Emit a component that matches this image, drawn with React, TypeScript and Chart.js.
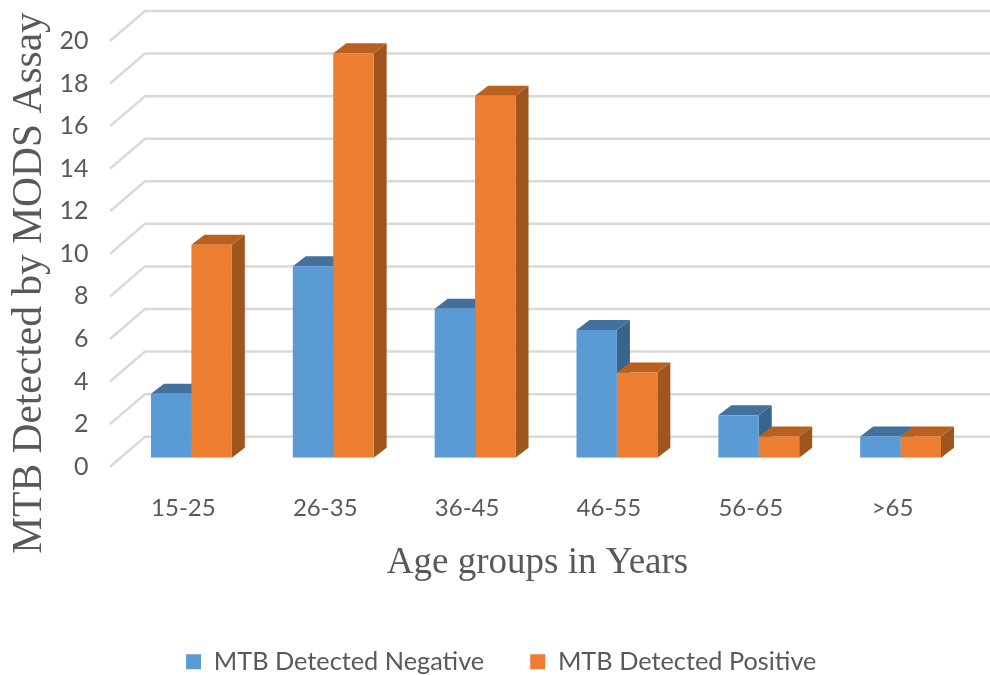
import React, { useEffect, useRef } from "react";
import { Chart, registerables } from "chart.js";

Chart.register(...registerables);

const categories = ["15-25", "26-35", "36-45", "46-55", "56-65", ">65"];
const negativeValues = [3, 9, 7, 6, 2, 1];
const positiveValues = [10, 19, 17, 4, 1, 1];
const seriesNames = ["MTB Detected Negative", "MTB Detected Positive"];
const yTicks = [0, 2, 4, 6, 8, 10, 12, 14, 16, 18, 20];
const xTitle = "Age groups in Years";
const yTitle = "MTB Detected by MODS Assay";

const TEXT = "#595959";
const faceColors = [
  { top: "#41719C", side: "#38648C" },
  { top: "#B8611F", side: "#A0551F" },
];
const depthX = 13;
const depthY = 10;

const threeD = {
  id: "threeD",
  afterLayout(chart: any) {
    const legend = chart.legend;
    const h = legend.height;
    legend.left += 15.5;
    legend.right += 15.5;
    legend.top = 603;
    legend.bottom = 603 + h;
  },
  beforeDatasetsDraw(chart: any) {
    const { ctx } = chart;
    const y = chart.scales.y;
    ctx.save();
    ctx.strokeStyle = "#D9D9D9";
    ctx.lineWidth = 2.5;
    yTicks.forEach((v) => {
      const py = y.getPixelForValue(v);
      ctx.beginPath();
      ctx.moveTo(110, py + 9);
      ctx.lineTo(145, py - 21);
      ctx.lineTo(990, py - 21);
      ctx.stroke();
    });
    chart.data.datasets.forEach((_: any, di: number) => {
      const meta = chart.getDatasetMeta(di);
      meta.data.forEach((bar: any) => {
        const half = bar.width / 2;
        const l = bar.x - half;
        const r = bar.x + half;
        const t = bar.y;
        const b = bar.base;
        ctx.fillStyle = faceColors[di].side;
        ctx.beginPath();
        ctx.moveTo(r, t);
        ctx.lineTo(r + depthX, t - depthY);
        ctx.lineTo(r + depthX, b - depthY);
        ctx.lineTo(r, b);
        ctx.closePath();
        ctx.fill();
        ctx.fillStyle = faceColors[di].top;
        ctx.beginPath();
        ctx.moveTo(l, t);
        ctx.lineTo(l + depthX, t - depthY);
        ctx.lineTo(r + depthX, t - depthY);
        ctx.lineTo(r, t);
        ctx.closePath();
        ctx.fill();
      });
    });
    ctx.restore();
  },
  afterDraw(chart: any) {
    const { ctx } = chart;
    ctx.save();
    ctx.fillStyle = TEXT;
    ctx.textAlign = "center";
    ctx.textBaseline = "middle";
    ctx.font = '37px "Liberation Serif"';
    ctx.fillText(xTitle, 537.5, 563);
    ctx.translate(30, 283);
    ctx.rotate(-Math.PI / 2);
    ctx.font = '41.5px "Liberation Serif"';
    ctx.fillText(yTitle, 0, 0);
    ctx.restore();
  },
};

export default function App() {
  const ref = useRef<HTMLCanvasElement>(null);
  useEffect(() => {
    const chart = new Chart(ref.current as HTMLCanvasElement, {
      type: "bar",
      data: {
        labels: categories,
        datasets: [
          { label: seriesNames[0], data: negativeValues, backgroundColor: "#5B9BD5" },
          { label: seriesNames[1], data: positiveValues, backgroundColor: "#ED7D31" },
        ],
      },
      options: {
        responsive: false,
        animation: false,
        layout: { padding: { left: 0, right: 18.5, top: 32, bottom: 0 } },
        datasets: { bar: { barPercentage: 1, categoryPercentage: 0.57 } },
        plugins: {
          tooltip: { enabled: false },
          legend: {
            position: "bottom",
            labels: {
              boxWidth: 15,
              boxHeight: 15,
              padding: 46,
              color: TEXT,
              font: { family: "Lato", size: 25.3 },
            },
          },
        },
        scales: {
          x: {
            grid: { display: false },
            border: { display: false },
            afterFit(scale: any) {
              scale.height = 136;
            },
            ticks: {
              padding: 28,
              labelOffset: -8,
              maxRotation: 0,
              color: TEXT,
              font: { family: "Lato", size: 24 },
            },
          },
          y: {
            min: 0,
            max: 20,
            grid: { display: false },
            border: { display: false },
            afterFit(scale: any) {
              scale.width = 120.5;
              scale.paddingTop = 0;
              scale.paddingBottom = 0;
            },
            afterBuildTicks(scale: any) {
              scale.ticks = yTicks.map((value) => ({ value }));
            },
            ticks: {
              padding: 24,
              labelOffset: 9,
              color: TEXT,
              font: { family: "Lato", size: 25 },
            },
          },
        },
      },
      plugins: [threeD],
    } as any);
    return () => chart.destroy();
  }, []);
  return (
    <div style={{ position: "fixed", left: 0, top: 0, width: 990, height: 675, background: "#fff" }}>
      <canvas ref={ref} width={990} height={675} style={{ display: "block" }} />
    </div>
  );
}
